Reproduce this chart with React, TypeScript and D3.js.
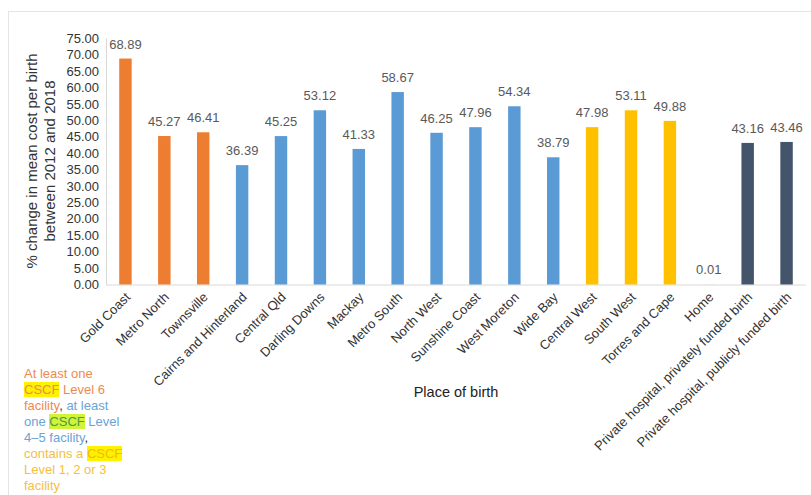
import React from "react";
import * as d3 from "d3";

// Place of birth, in display order
const categories = [
  "Gold Coast",
  "Metro North",
  "Townsville",
  "Cairns and Hinterland",
  "Central Qld",
  "Darling Downs",
  "Mackay",
  "Metro South",
  "North West",
  "Sunshine Coast",
  "West Moreton",
  "Wide Bay",
  "Central West",
  "South West",
  "Torres and Cape",
  "Home",
  "Private hospital, privately funded birth",
  "Private hospital, publicly funded birth",
];

// % change in mean cost per birth, 2012 to 2018
const values = [
  68.89, 45.27, 46.41, 36.39, 45.25, 53.12, 41.33, 58.67, 46.25, 47.96, 54.34,
  38.79, 47.98, 53.11, 49.88, 0.01, 43.16, 43.46,
];

// Facility level group of each place
const groups = [
  "level6", "level6", "level6",
  "level45", "level45", "level45", "level45", "level45", "level45", "level45", "level45", "level45",
  "level123", "level123", "level123",
  "other", "other", "other",
];

const groupColors: Record<string, string> = {
  level6: "#ED7D31",
  level45: "#5B9BD5",
  level123: "#FFC000",
  other: "#44546A",
};

const yTicks = d3.range(0, 75.001, 5);

const FONT = "'Liberation Sans', Arial, Helvetica, sans-serif";

export default function App() {
  const width = 811;
  const height = 495;
  const plotLeft = 106;
  const plotRight = 806;
  const plotTop = 38.5;
  const plotBottom = 284.5;

  const x = d3
    .scaleBand<string>()
    .domain(categories)
    .range([plotLeft, plotRight])
    .paddingInner(0.68)
    .paddingOuter(0.34);

  const y = d3.scaleLinear().domain([0, 75]).range([plotBottom, plotTop]);

  const center = (c: string) => (x(c) as number) + x.bandwidth() / 2;

  return (
    <svg
      width={width}
      height={height}
      style={{ position: "absolute", left: 0, top: 0, fontFamily: FONT }}
    >
      <rect x={0} y={0} width={width} height={height} fill="#ffffff" />
      {/* panel frame */}
      <line x1={8} x2={width} y1={11.5} y2={11.5} stroke="#e4e4e4" />
      <line x1={8.5} x2={8.5} y1={11} y2={height} stroke="#e4e4e4" />

      {/* axes */}
      <line
        x1={plotLeft + 0.5}
        x2={plotLeft + 0.5}
        y1={plotTop}
        y2={plotBottom}
        stroke="#d9d9d9"
      />
      <line
        x1={plotLeft}
        x2={plotRight}
        y1={plotBottom + 0.5}
        y2={plotBottom + 0.5}
        stroke="#d9d9d9"
      />

      {/* y tick labels */}
      {yTicks.map((t) => (
        <text
          key={t}
          x={99}
          y={y(t)}
          dy="0.35em"
          textAnchor="end"
          fontSize={13}
          fill="#333333"
        >
          {t.toFixed(2)}
        </text>
      ))}

      {/* y axis title */}
      <text
        transform={`translate(37,${161}) rotate(-90)`}
        textAnchor="middle"
        fontSize={15}
        fill="#333333"
      >
        <tspan x={0} dy={0}>% change in mean cost per birth</tspan>
        <tspan x={0} dy={18}>between 2012 and 2018</tspan>
      </text>

      {/* bars */}
      {categories.map((c, i) => (
        <rect
          key={c}
          x={x(c)}
          y={y(values[i])}
          width={x.bandwidth()}
          height={y(0) - y(values[i])}
          fill={groupColors[groups[i]]}
        />
      ))}

      {/* value labels */}
      {categories.map((c, i) => (
        <text
          key={c}
          x={center(c)}
          y={y(values[i]) - 10}
          textAnchor="middle"
          fontSize={13}
          fill="#595959"
        >
          {values[i].toFixed(2)}
        </text>
      ))}

      {/* category labels */}
      {categories.map((c) => (
        <text
          key={c}
          transform={`translate(${center(c) + 5.5},${298}) rotate(-45)`}
          textAnchor="end"
          fontSize={13}
          fill="#333333"
        >
          {c}
        </text>
      ))}

      {/* x axis title */}
      <text
        x={(plotLeft + plotRight) / 2}
        y={397}
        textAnchor="middle"
        fontSize={14.5}
        fill="#222222"
      >
        Place of birth
      </text>

      {/* colour key */}
      <foreignObject x={24} y={365.5} width={120} height={130}>
        <div
          style={{
            fontFamily: FONT,
            fontSize: "13px",
            lineHeight: "16px",
            whiteSpace: "nowrap",
          }}
        >
          <div style={{ color: "#EE8A4E" }}>At least one</div>
          <div style={{ color: "#EE8A4E" }}>
            <span style={{ background: "#FFF200" }}>CSCF</span> Level 6
          </div>
          <div>
            <span style={{ color: "#EE8A4E" }}>facility</span>
            <span style={{ color: "#333333" }}>, </span>
            <span style={{ color: "#6AA3D8" }}>at least</span>
          </div>
          <div style={{ color: "#6AA3D8" }}>
            one{" "}
            <span style={{ background: "#CFF43A", color: "#4A9A46" }}>CSCF</span>{" "}
            Level
          </div>
          <div>
            <span style={{ color: "#6AA3D8" }}>4–5 facility</span>
            <span style={{ color: "#333333" }}>,</span>
          </div>
          <div style={{ color: "#F5C040" }}>
            contains a <span style={{ background: "#FFF200", color: "#F5B800" }}>CSCF</span>
          </div>
          <div style={{ color: "#F5C040" }}>Level 1, 2 or 3</div>
          <div style={{ color: "#F5C040" }}>facility</div>
        </div>
      </foreignObject>
    </svg>
  );
}
